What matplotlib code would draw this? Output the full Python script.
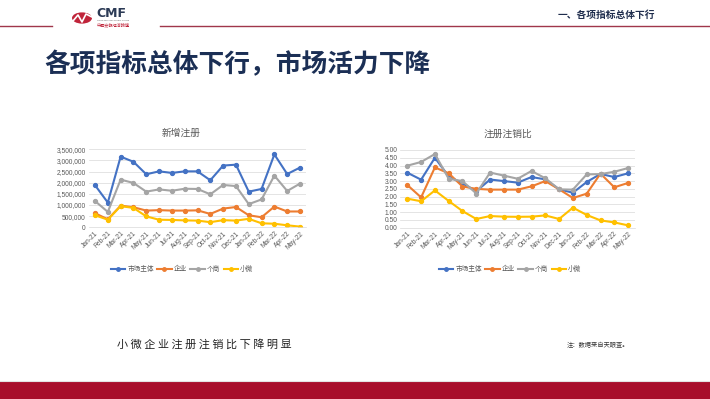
import matplotlib
matplotlib.use("Agg")
import matplotlib.pyplot as plt
from matplotlib.patches import Rectangle, Circle
from matplotlib.lines import Line2D
from matplotlib.ticker import FuncFormatter, MultipleLocator

plt.rcParams['font.family'] = ['Noto Sans CJK SC', 'DejaVu Sans']

months = ['Jan-21', 'Feb-21', 'Mar-21', 'Apr-21', 'May-21', 'Jun-21', 'Jul-21', 'Aug-21',
          'Sep-21', 'Oct-21', 'Nov-21', 'Dec-21', 'Jan-22', 'Feb-22', 'Mar-22', 'Apr-22', 'May-22']
series_names = ['市场主体', '企业', '个商', '小微']

# 新增注册 (millions)
reg_market = [1.89, 1.11, 3.17, 2.94, 2.38, 2.51, 2.44, 2.51, 2.51, 2.11, 2.77, 2.81, 1.60, 1.72, 3.27, 2.39, 2.68]
reg_company = [0.63, 0.36, 0.97, 0.90, 0.75, 0.77, 0.75, 0.75, 0.76, 0.60, 0.84, 0.91, 0.54, 0.45, 0.93, 0.71, 0.71]
reg_individual = [1.18, 0.69, 2.14, 1.99, 1.60, 1.70, 1.64, 1.73, 1.72, 1.48, 1.90, 1.85, 1.04, 1.25, 2.32, 1.63, 1.96]
reg_micro = [0.54, 0.34, 0.95, 0.87, 0.49, 0.34, 0.33, 0.31, 0.30, 0.23, 0.32, 0.30, 0.38, 0.18, 0.16, 0.09, 0.03]

# 注册注销比
ratio_market = [3.54, 3.09, 4.50, 3.30, 2.85, 2.35, 3.10, 3.00, 2.90, 3.26, 3.11, 2.47, 2.25, 2.94, 3.46, 3.26, 3.50]
ratio_company = [2.75, 1.95, 3.88, 3.50, 2.65, 2.50, 2.45, 2.45, 2.45, 2.66, 3.00, 2.47, 1.91, 2.19, 3.48, 2.60, 2.88]
ratio_individual = [3.99, 4.23, 4.74, 3.15, 3.00, 2.20, 3.55, 3.35, 3.15, 3.65, 3.18, 2.47, 2.45, 3.43, 3.45, 3.60, 3.84]
ratio_micro = [1.87, 1.70, 2.40, 1.72, 1.07, 0.56, 0.75, 0.71, 0.70, 0.71, 0.79, 0.56, 1.29, 0.82, 0.47, 0.34, 0.15]

colors = ['#4472C4', '#ED7D31', '#A5A5A5', '#FFC000']
W, H = 710, 399
txt = '#595959'

fig = plt.figure(figsize=(W / 100, H / 100), dpi=100)
fig.patch.set_facecolor('white')


def px_axes(x0, y0, x1, y1):
    return fig.add_axes([x0 / W, 1 - y1 / H, (x1 - x0) / W, (y1 - y0) / H])


def fx(x):
    return x / W


def fy(y):
    return 1 - y / H


# header
fig.add_artist(Line2D([0, fx(52)], [fy(25.5)] * 2, color='#A0364B', lw=1.0))
fig.add_artist(Line2D([fx(160), 1], [fy(25.5)] * 2, color='#A0364B', lw=1.0))
fig.add_artist(Circle((fx(82), fy(18)), 10 / W, transform=fig.transFigure,
                      facecolor='#C0243A', edgecolor='none'))
fig.add_artist(Line2D([fx(73), fx(78), fx(82), fx(86), fx(92)],
                      [fy(21), fy(15), fy(22), fy(14), fy(17)], color='white', lw=1.2))
fig.text(fx(96), fy(13.5), 'CMF', fontsize=9, fontweight='bold', color='#2B3A55',
         family=['DejaVu Sans'], va='center', ha='left')
fig.text(fx(97), fy(20.5), 'China Macroeconomy Forum', fontsize=1.6, color='#555555',
         family=['DejaVu Sans'], va='center', ha='left')
fig.text(fx(97), fy(25), '中國宏觀經濟論壇', fontsize=3, color='#C0243A', va='center', ha='left')
fig.text(fx(558), fy(15), '一、各项指标总体下行', fontsize=7, fontweight='bold',
         color='#1F2D4D', va='center', ha='left')

# title
fig.text(fx(44), fy(65), '各项指标总体下行，市场活力下降', fontsize=18.5, fontweight='bold',
         color='#1B2F55', va='center', ha='left')


def draw_chart(ax, data, ylim, step, fmt):
    for vals, c in zip(data, colors):
        ax.plot(range(len(months)), vals, color=c, lw=1.5, marker='o', markersize=2.8,
                solid_capstyle='round')
    ax.set_xlim(-0.5, len(months) - 0.5)
    ax.set_ylim(0, ylim)
    ax.yaxis.set_major_locator(MultipleLocator(step))
    ax.yaxis.set_major_formatter(FuncFormatter(fmt))
    ax.set_xticks(range(len(months)))
    ax.set_xticklabels(months, rotation=45, ha='right', rotation_mode='anchor')
    ax.tick_params(axis='both', length=0, labelsize=4.8, colors=txt, pad=2)
    ax.grid(axis='y', color='#D9D9D9', lw=0.5)
    ax.set_axisbelow(True)
    for s in ['top', 'right', 'left']:
        ax.spines[s].set_visible(False)
    ax.spines['bottom'].set_color('#D9D9D9')
    ax.spines['bottom'].set_linewidth(0.5)
    for lab in ax.get_xticklabels() + ax.get_yticklabels():
        lab.set_family(['Liberation Sans', 'DejaVu Sans'])


ax1 = px_axes(88.6, 149.3, 306.4, 227.3)
draw_chart(ax1, [[v * 1e6 for v in s] for s in (reg_market, reg_company, reg_individual, reg_micro)],
           3.5e6, 5e5, lambda v, p: f'{v:,.0f}')
ax2 = px_axes(400.4, 150, 635, 227.7)
draw_chart(ax2, [ratio_market, ratio_company, ratio_individual, ratio_micro],
           5.0, 0.5, lambda v, p: f'{v:.2f}')

fig.text(fx(181), fy(133), '新增注册', fontsize=7, color=txt, ha='center', va='center')
fig.text(fx(508), fy(134), '注册注销比', fontsize=7, color=txt, ha='center', va='center')

handles = [Line2D([], [], color=c, lw=1.5, marker='o', markersize=2.5) for c in colors]
for cx in (182, 510):
    fig.legend(handles, series_names, loc='center', bbox_to_anchor=(fx(cx), fy(269)),
               ncol=4, frameon=False, fontsize=4.8, handlelength=2.2, handletextpad=0.3,
               columnspacing=0.5, labelcolor=txt)

# notes
fig.text(fx(117), fy(344), '小 微 企 业 注 册 注 销 比 下 降 明 显', fontsize=8, color='#222222',
         ha='left', va='center')
fig.text(fx(567), fy(345), '注：数据来自天眼查。', fontsize=4.5, color='#333333', ha='left', va='center')

# bottom band
fig.add_artist(Rectangle((0, 0), 1, 18 / H, transform=fig.transFigure,
                         facecolor='#A80E2B', edgecolor='none'))
fig.add_artist(Line2D([0, 1], [fy(380.5)] * 2, color='#E3E3E3', lw=0.8))

fig.savefig('out.png', dpi=100, facecolor='white')
